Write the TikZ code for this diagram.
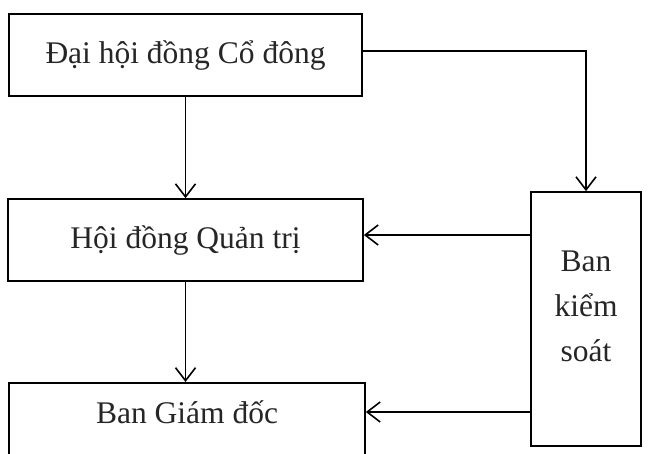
\documentclass[tikz,border=0pt]{standalone}
\usepackage{fontspec}
\setmainfont{Liberation Serif}
\usetikzlibrary{arrows.meta, positioning}

\begin{document}
\begin{tikzpicture}[
    x=1pt, y=-1pt,
    every node/.style={font=\fontsize{31.5}{45}\selectfont, text=black!85},
    box/.style={draw, line width=1.7pt, minimum width=353pt, minimum height=82pt, inner sep=0pt},
    arr/.style={draw, line width=1.7pt, -{Straight Barb[length=13pt, width=20pt, line width=1.6pt]}}
]

% khung ảnh
\clip (0,0) rectangle (652,454);
\fill[white] (0,0) rectangle (652,454);

% các khối bên trái
\node[box] (dh) at (185.5,55) {Đại hội đồng Cổ đông};
\node[box, minimum width=355pt] (hd) at (185.5,240) {Hội đồng Quản trị};
\node[box, minimum width=356pt, minimum height=90pt, anchor=north] (gd) at (187,382) {};
\node (gdtext) at (187,412) {Ban Giám đốc};

% ban kiểm soát
\node[box, minimum width=110pt, minimum height=254pt] (ks) at (586,319) {};
\node[align=center, inner sep=0pt] (kstext) at (586,306) {Ban\\kiểm\\soát};

% mũi tên
\draw[arr] ([yshift=4pt]dh.east) -| (ks.north);
\draw[arr] (dh.south) -- (hd.north);
\draw[arr] (hd.south) -- (hd.south |- gd.north);
\draw[arr] ([yshift=5pt]ks.west |- hd.east) -- ([yshift=5pt]hd.east);
\draw[arr] (ks.west |- gdtext) -- (gd.east |- gdtext);

\end{tikzpicture}
\end{document}
